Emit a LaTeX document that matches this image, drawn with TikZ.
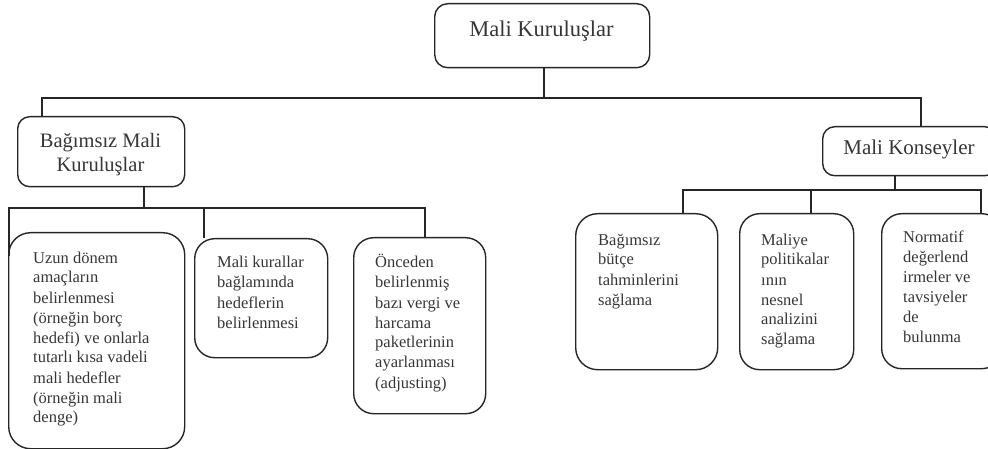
\documentclass[tikz,border=0pt]{standalone}
\usepackage{fontspec}
\setmainfont{Liberation Serif}
\usetikzlibrary{calc}
\definecolor{lc}{HTML}{262626}
\definecolor{tc}{HTML}{363636}
\tikzset{
  bx/.style={draw=lc, line width=1.4pt, rounded corners=#1, inner sep=0pt, anchor=north west},
  conn/.style={draw=lc, line width=1.4pt},
  lbl/.style={inner sep=0pt, anchor=base west, text=tc, font=\fontsize{16.5}{20}\selectfont},
  hd/.style={inner sep=0pt, anchor=base, text=tc},
}
\newcommand{\lines}[1]{\parbox[t]{170pt}{\raggedright #1}}
\begin{document}
\begin{tikzpicture}[x=1pt,y=1pt]
\useasboundingbox (0,0) rectangle (988,-449);
\clip (0,0) rectangle (988,-449);

% top level
\node[bx=13, minimum width=215, minimum height=64] (top) at (434,-3) {};
\node[hd, font=\fontsize{22.5}{26}\selectfont] (topt) at (541.5,-37) {Mali Kuruluşlar};

% second level
\node[bx=12, minimum width=167, minimum height=70] (bag) at (17,-116) {};
\node[hd, font=\fontsize{20.5}{24}\selectfont] (bagt) at (100.5,-148) {\parbox[t]{160pt}{\centering Bağımsız Mali\\Kuruluşlar}};

\node[bx=12, minimum width=174, minimum height=49] (kon) at (822,-126) {};
\node[hd, font=\fontsize{21}{25}\selectfont] (kont) at (909,-155) {Mali Konseyler};

% third level, left
\node[bx=22, minimum width=176, minimum height=216] (b1) at (8,-232) {};
\node[lbl] (t1) at (33,-263) {\lines{Uzun dönem\\amaçların\\belirlenmesi\\(örneğin borç\\hedefi) ve onlarla\\tutarlı kısa vadeli\\mali hedefler\\(örneğin mali\\denge)}};

\node[bx=20, minimum width=133, minimum height=119] (b2) at (194,-238) {};
\node[lbl] (t2) at (217,-268) {\lines{Mali kurallar\\bağlamında\\hedeflerin\\belirlenmesi}};

\node[bx=20, minimum width=132, minimum height=176] (b3) at (353,-237) {};
\node[lbl] (t3) at (375,-268) {\lines{Önceden\\belirlenmiş\\bazı vergi ve\\harcama\\paketlerinin\\ayarlanması\\(adjusting)}};

% third level, right
\node[bx=22, minimum width=142, minimum height=156] (b4) at (575,-213) {};
\node[lbl] (t4) at (598,-245) {\lines{Bağımsız\\bütçe\\tahminlerini\\sağlama}};

\node[bx=20, minimum width=114, minimum height=156] (b5) at (739,-213) {};
\node[lbl] (t5) at (761,-245) {\lines{Maliye\\politikalar\\ının\\nesnel\\analizini\\sağlama}};

\node[bx=20, minimum width=120, minimum height=155] (b6) at (881,-213) {};
\node[lbl] (t6) at (903,-243) {\lines{Normatif\\değerlend\\irmeler ve\\tavsiyeler\\de\\bulunma}};

% bus coordinates
\coordinate (busT) at (544,-98);
\coordinate (busL) at (42,-98);
\coordinate (busR) at (921,-98);
\coordinate (jl) at (144,-208);
\coordinate (c1) at (9,-208);
\coordinate (c2) at (204,-208);
\coordinate (c3) at (425,-208);
\coordinate (e1) at (9,-256);
\coordinate (jr) at (895,-190);
\coordinate (d1) at (683,-190);
\coordinate (d2) at (811,-190);
\coordinate (d3) at (981,-190);

% connectors
\draw[conn] (top.south -| busT) -- (busT);
\draw[conn] (busL |- bag.north) -- (busL) -- (busR) -- (busR |- kon.north);

\draw[conn] (bag.south -| jl) -- (jl);
\draw[conn] (e1) -- (c1) -- (c3) -- (c3 |- b3.north);
\draw[conn] (c2) -- (c2 |- b2.north);

\draw[conn] (kon.south -| jr) -- (jr);
\draw[conn] (d1 |- b4.north) -- (d1) -- (d3) -- (d3 |- b6.north);
\draw[conn] (d2) -- (d2 |- b5.north);
\end{tikzpicture}
\end{document}
